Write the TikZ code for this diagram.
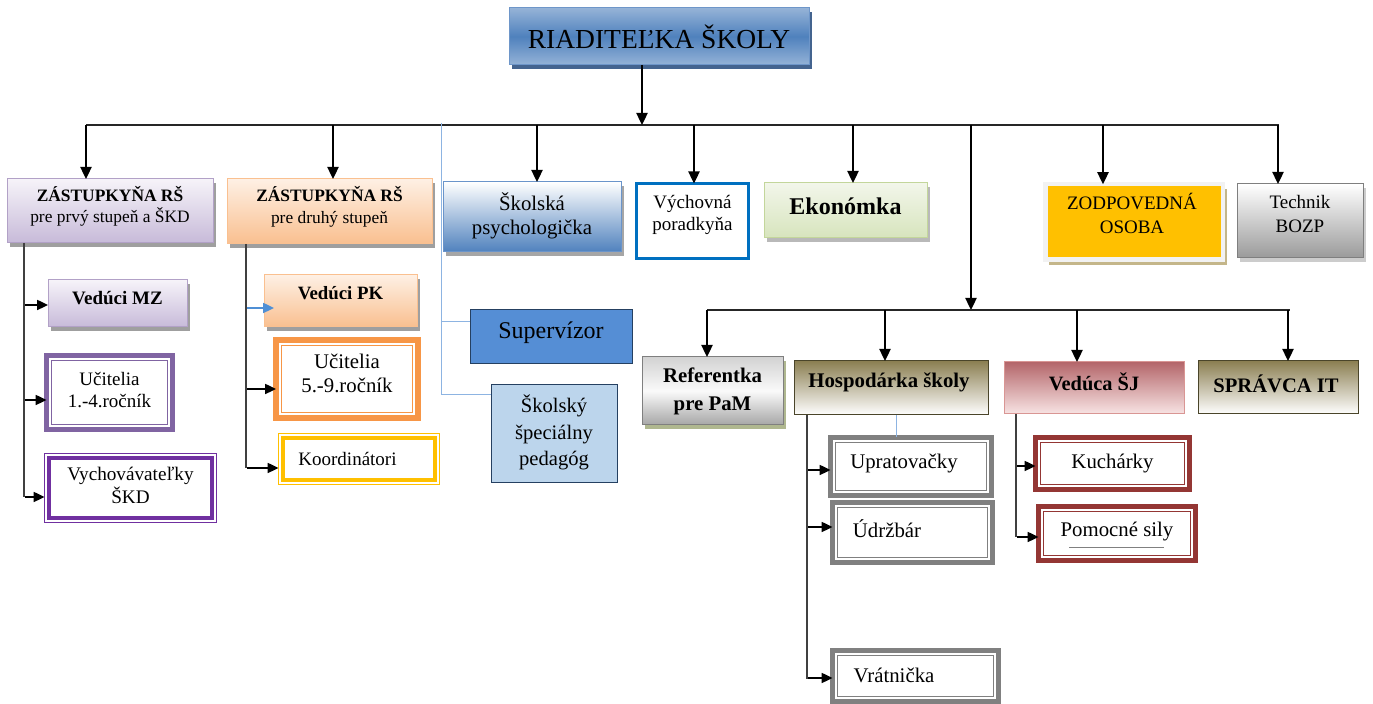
\documentclass[tikz,border=0pt]{standalone}
\usepackage{fontspec}
\setmainfont{Liberation Serif}
\usetikzlibrary{arrows.meta,shadows}

\newcommand{\tx}[3]{\makebox[0pt]{\hspace*{#1}\hspace*{#1}\raisebox{#2}[\height][\depth]{#3}}}
\newcommand{\two}[2]{\begin{tabular}{@{}c@{}}#1\\#2\end{tabular}}
\newcommand{\three}[3]{\begin{tabular}{@{}c@{}}#1\\#2\\#3\end{tabular}}
\newcommand{\fs}[2]{\fontsize{#1}{#2}\selectfont}

\definecolor{cT1}{HTML}{95B3D7}
\definecolor{cT2}{HTML}{4F81BD}
\definecolor{cTB}{HTML}{6E96C9}
\definecolor{cTS}{HTML}{44648F}
\definecolor{cP1}{HTML}{F6F3F9}
\definecolor{cP2}{HTML}{C7BAD9}
\definecolor{cPB}{HTML}{B2A1C7}
\definecolor{cO1}{HTML}{FEF0E4}
\definecolor{cO2}{HTML}{F9BF8F}
\definecolor{cOB}{HTML}{FAC090}
\definecolor{cB2}{HTML}{4F81BD}
\definecolor{cBB}{HTML}{6A94CA}
\definecolor{cVy}{HTML}{0070C0}
\definecolor{cG1}{HTML}{F2F6EA}
\definecolor{cG2}{HTML}{D7E4BD}
\definecolor{cGB}{HTML}{C3D69B}
\definecolor{cGold}{HTML}{FFC000}
\definecolor{cFr}{HTML}{F2F2F2}
\definecolor{cTan}{HTML}{C4B68A}
\definecolor{cGy2}{HTML}{9A9A9A}
\definecolor{cGyB}{HTML}{7F7F7F}
\definecolor{cU14}{HTML}{8064A2}
\definecolor{cVs}{HTML}{7030A0}
\definecolor{cU59}{HTML}{F79646}
\definecolor{cSup}{HTML}{558ED5}
\definecolor{cSsp}{HTML}{BCD5EC}
\definecolor{cNavy}{HTML}{254061}
\definecolor{cOl1}{HTML}{8B7F52}
\definecolor{cOlB}{HTML}{4A452A}
\definecolor{cR1}{HTML}{B4666A}
\definecolor{cR2}{HTML}{F8E4E4}
\definecolor{cRB}{HTML}{D99694}
\definecolor{cGr}{HTML}{808080}
\definecolor{cKu}{HTML}{943634}
\definecolor{cBL}{HTML}{8DB4E2}
\definecolor{cBA}{HTML}{4F8FD5}
\definecolor{cRS}{HTML}{AFB78F}

\tikzset{
  bx/.style={draw, rectangle, outer sep=0pt, inner sep=0pt, line width=0.5pt},
  ln/.style={line width=0.85pt, draw=black!85},
  cl/.style={line width=0.75pt, draw=black!75},
  arr/.style={line width=0.85pt, black, -{Triangle[length=6pt,width=5.6pt]}},
  sarr/.style={line width=0.85pt, black, -{Triangle[length=5.4pt,width=5pt]}},
  bl/.style={draw=cBL, line width=0.5pt},
  shd/.style={drop shadow={shadow xshift=1.6pt, shadow yshift=-1.8pt, fill=#1, opacity=1}},
  thk/.style={bx, fill=white, draw=#1, line width=2.5pt},
  thn/.style={bx, fill=white, draw=#1, line width=0.6pt},
  olive/.style={bx, draw=cOlB, top color=cOl1, bottom color=white},
}

\begin{document}
\begin{tikzpicture}[x=0.5pt, y=-0.5pt]
\useasboundingbox (0,0) rectangle (1373,704);

% ---- top ----
\node[bx, shd=cTS, draw=cTB, top color=cT1, bottom color=cT1, middle color=cT2,
  minimum width=150pt, minimum height=28.5pt, font=\fs{13.75}{16}] (title) at (659,36.5) {RIADITEĽKA ŠKOLY};

% ---- first row ----
\node[bx, shd=gray!75, draw=cPB, top color=cP1, bottom color=cP2, minimum width=103pt, minimum height=32pt,
  font=\fs{8.7}{10.5}] (z1) at (110,211) {\tx{0pt}{1.75pt}{\two{\textbf{ZÁSTUPKYŇA RŠ}}{pre prvý stupeň a ŠKD}}};
\node[bx, shd=gray!75, draw=cOB, top color=cO1, bottom color=cO2, minimum width=102.5pt, minimum height=32.5pt,
  font=\fs{8.7}{11}] (z2) at (329.5,211.5) {\tx{0pt}{1.5pt}{\two{\textbf{ZÁSTUPKYŇA RŠ}}{pre druhý stupeň}}};
\node[bx, shd=gray!70, draw=cBB, top color=white, bottom color=cB2, minimum width=89pt, minimum height=35pt,
  font=\fs{10.4}{12}] (psy) at (532,217) {\two{Školská}{psychologička}};
\node[bx, draw=cVy, line width=1.5pt, fill=white, minimum width=56pt, minimum height=37.5pt,
  font=\fs{9.5}{11}] (vyc) at (692.5,221) {\tx{0pt}{3pt}{\two{Výchovná}{poradkyňa}}};
\node[bx, shd=gray!55, draw=cGB, top color=cG1, bottom color=cG2, minimum width=81.5pt, minimum height=27.5pt,
  font=\fs{12}{14}] (eko) at (845.5,210.5) {\tx{0pt}{2pt}{\textbf{Ekonómka}}};
\node[bx, drop shadow={shadow xshift=2pt, shadow yshift=-2.4pt, fill=cTan, opacity=1}, draw=cFr, line width=2.25pt, fill=cGold,
  minimum width=88.75pt, minimum height=37.75pt, font=\fs{9.5}{11.7}] (zod) at (1134,222) {\tx{-1pt}{2.5pt}{\two{ZODPOVEDNÁ}{OSOBA}}};
\node[bx, shd=gray!40, draw=cGyB, top color=white, bottom color=cGy2, minimum width=63pt, minimum height=37pt,
  font=\fs{9.5}{12}] (tec) at (1300,221) {\tx{0pt}{2.5pt}{\two{Technik}{BOZP}}};

% ---- left columns ----
\node[bx, shd=gray!75, draw=cPB, top color=cP1, bottom color=cP2, minimum width=69.5pt, minimum height=23.5pt,
  font=\fs{9.5}{11}] (mz) at (117.5,303.5) {\tx{0pt}{2.5pt}{\textbf{Vedúci MZ}}};
\node[thk=cU14, minimum width=63pt, minimum height=37pt, font=\fs{9.5}{11}] (u14) at (109.5,392.5) {\two{Učitelia}{1.-4.ročník}};
\node[thn=cVs, minimum width=86pt, minimum height=34.5pt, font=\fs{9.6}{11}] (vys) at (130.5,488) {\two{Vychovávateľky}{ŠKD}};

\node[bx, shd=gray!75, draw=cOB, top color=cO1, bottom color=cO2, minimum width=76.5pt, minimum height=26pt,
  font=\fs{9.4}{11}] (pk) at (340.5,301) {\tx{0pt}{4pt}{\textbf{Vedúci PK}}};
\node[bx, fill=white, draw=cU59, line width=3pt, minimum width=71pt, minimum height=39pt, font=\fs{10.4}{12}] (u59) at (347,379) {\tx{0pt}{1.5pt}{\two{Učitelia}{5.-9.ročník}}};
\node[thn=cGold, minimum width=80.5pt, minimum height=25.5pt, font=\fs{9.5}{11}] (koo) at (359,459) {\tx{-5.75pt}{0pt}{Koordinátori}};

\node[bx, draw=cNavy, fill=cSup, minimum width=81pt, minimum height=27pt, font=\fs{12}{14}] (sup) at (551,337) {\tx{0pt}{2pt}{Supervízor}};
\node[bx, draw=cNavy, fill=cSsp, minimum width=63pt, minimum height=49pt, font=\fs{10.3}{13.2}] (ssp) at (554,434) {\three{Školský}{špeciálny}{pedagóg}};

% ---- second row ----
\node[bx, shd=cRS, draw=cGyB, top color=gray!35, bottom color=gray!70, middle color=white!96!gray, minimum width=70.5pt, minimum height=34pt,
  font=\fs{10.4}{13.8}] (ref) at (712.5,391) {\two{\textbf{Referentka}}{\textbf{pre PaM}}};
\node[olive, minimum width=97pt, minimum height=27pt, font=\fs{10.4}{12}] (hos) at (891,388) {\tx{-1pt}{3pt}{\textbf{Hospodárka školy}}};
\node[bx, draw=cRB, top color=cR1, bottom color=cR2, minimum width=90pt, minimum height=26pt, font=\fs{10.2}{12}] (ved) at (1094,388) {\tx{0pt}{3pt}{\textbf{Vedúca ŠJ}}};
\node[olive, minimum width=80pt, minimum height=26.5pt, font=\fs{10.3}{12}] (it) at (1278,387.5) {\tx{-1pt}{2pt}{\textbf{SPRÁVCA IT}}};

\node[thk=cGr, minimum width=80.5pt, minimum height=29pt, font=\fs{10.4}{12}] (upr) at (911,466.5) {\tx{-3.5pt}{1.5pt}{Upratovačky}};
\node[thk=cGr, minimum width=80pt, minimum height=30pt, font=\fs{10.4}{12}] (udr) at (912.5,532.5) {\tx{-12.75pt}{2pt}{Údržbár}};
\node[thk=cGr, minimum width=83pt, minimum height=25.5pt, font=\fs{10.4}{12}] (vra) at (915.5,676) {\tx{-10.75pt}{0.5pt}{Vrátnička}};
\node[thk=cKu, minimum width=77pt, minimum height=26pt, font=\fs{10.4}{12}] (kuc) at (1112.5,463.5) {Kuchárky};
\node[thk=cKu, minimum width=78.5pt, minimum height=27pt, font=\fs{10.4}{12}] (pom) at (1117,533.5) {\tx{0pt}{1pt}{Pomocné sily}};

% inner lines of the double frames
\foreach \n/\c/\w/\d in {u14/cU14/0.6pt/2.6pt, u59/cU59/0.6pt/2.8pt, upr/cGr/0.6pt/2.6pt,
  udr/cGr/0.6pt/2.6pt, vra/cGr/0.6pt/2.6pt, kuc/cKu/0.6pt/2.6pt, pom/cKu/0.6pt/2.6pt,
  vys/cVs/2pt/2.3pt, koo/cGold/2pt/2.4pt}
  \draw[draw=\c, line width=\w] ([shift={(\d,-\d)}]\n.north west) rectangle ([shift={(-\d,\d)}]\n.south east);
\draw[cGr, line width=0.6pt] ([shift={(-24pt,-7pt)}]pom.center) -- ([shift={(23.5pt,-7pt)}]pom.center);

% ---- connectors ----
\coordinate (tj) at (642,125);
\coordinate (tl) at (86,125);
\coordinate (tr) at (1279,125);
\draw[ln] (tl) -- (tr);
\draw[arr] (title.south -| tj) -- (tj);
\foreach \x/\n in {86/z1,333/z2,537/psy,694/vyc,853/eko,1103/zod,1278/tec}{
  \coordinate (d\n) at (\x,125);
  \draw[arr] (d\n) -- (d\n |- \n.north);
}
\coordinate (m1) at (971,125);
\coordinate (m2) at (971,310);
\draw[arr] (m1) -- (m2);
\coordinate (ll) at (707,310);
\coordinate (lr) at (1290,310);
\draw[ln] (ll) -- (lr);
\foreach \x/\n in {707/ref,885/hos,1077/ved,1288/it}{
  \coordinate (e\n) at (\x,310);
  \draw[arr] (e\n) -- (e\n |- \n.north);
}

% blue line to Supervízor / Školský špeciálny pedagóg
\coordinate (bt) at (441,123);
\coordinate (bs) at (441,322);
\coordinate (bb) at (441,395);
\draw[bl] (bt) -- (bb) -- (bb -| ssp.west);
\draw[bl] (bs) -- (bs -| sup.west);

% column under ZÁSTUPKYŇA 1
\coordinate (c1) at (24,497);
\draw[cl] (z1.south -| c1) -- (c1);
\coordinate (amz) at (25,305);
\coordinate (au14) at (25,400);
\coordinate (avys) at (25,497);
\draw[sarr] (amz) -- (amz -| mz.west);
\draw[sarr] (au14) -- (au14 -| u14.west);
\draw[sarr] (avys) -- (avys -| vys.west);

% column under ZÁSTUPKYŇA 2
\coordinate (c2) at (246,468);
\draw[cl] (z2.south -| c2) -- (c2);
\coordinate (apk) at (247,308);
\coordinate (au59) at (247,389);
\coordinate (akoo) at (247,468);
\draw[sarr, cBA] (apk) -- ([xshift=5pt]apk -| pk.west);
\draw[sarr] (au59) -- (au59 -| u59.west);
\draw[sarr] (akoo) -- (akoo -| koo.west);

% column under Hospodárka
\coordinate (c3) at (807,679);
\draw[cl] (hos.south -| c3) -- (c3);
\coordinate (aupr) at (808,470);
\coordinate (audr) at (808,527);
\coordinate (avra) at (808,678);
\draw[sarr] (aupr) -- (aupr -| upr.west);
\draw[sarr] (audr) -- (audr -| udr.west);
\draw[sarr] (avra) -- (avra -| vra.west);
\coordinate (tk) at (896,425);
\draw[bl] (tk |- hos.south) -- (tk |- upr.north);

% column under Vedúca ŠJ
\coordinate (c4) at (1016,537);
\draw[cl] (ved.south -| c4) -- (c4);
\coordinate (akuc) at (1017,466);
\coordinate (apom) at (1017,537);
\draw[sarr] (akuc) -- (akuc -| kuc.west);
\draw[sarr] (apom) -- (apom -| pom.west);
\end{tikzpicture}
\end{document}
